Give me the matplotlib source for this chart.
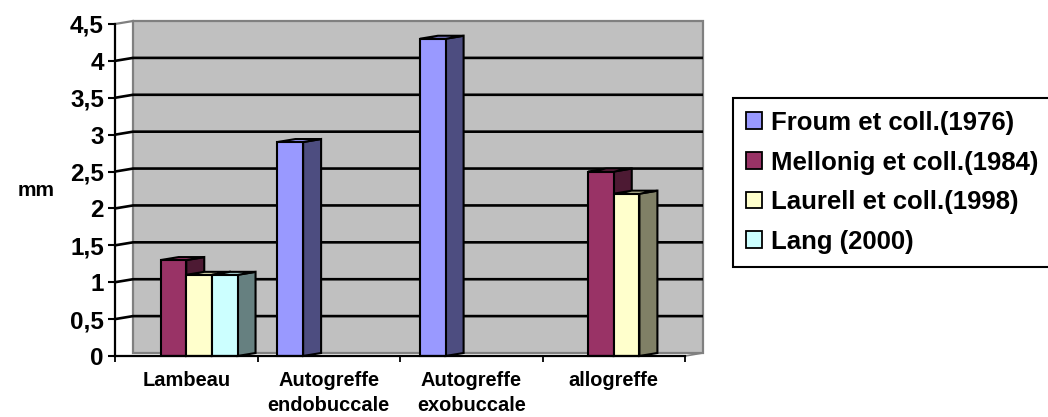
import numpy as np
import matplotlib
matplotlib.use("Agg")
import matplotlib.pyplot as plt
from matplotlib.patches import Polygon, Rectangle, Patch
from matplotlib.ticker import FixedLocator, FuncFormatter

# ---- data -------------------------------------------------------------
categories = ["Lambeau", "Autogreffe\nendobuccale", "Autogreffe\nexobuccale", "allogreffe"]
series_names = ["Froum et coll.(1976)", "Mellonig et coll.(1984)",
                "Laurell et coll.(1998)", "Lang (2000)"]
froum = [np.nan, 2.9, 4.3, np.nan]
mellonig = [1.3, np.nan, np.nan, 2.5]
laurell = [1.1, np.nan, np.nan, 2.2]
lang = [1.1, np.nan, np.nan, np.nan]
y_ticks = [0, 0.5, 1, 1.5, 2, 2.5, 3, 3.5, 4, 4.5]
y_label = "mm"

# ---- style ------------------------------------------------------------
front_colors = ["#9999FF", "#993366", "#FFFFCC", "#CCFFFF"]
side_colors = ["#4D4D80", "#4D1A33", "#808066", "#668080"]
wall_color = "#C0C0C0"
wall_edge = "#808080"
FONT = "Liberation Sans"

W, H, DPI = 1048, 417, 100
fig = plt.figure(figsize=(W / DPI, H / DPI), dpi=DPI)
fig.patch.set_facecolor("white")

# front plane of the 3-D box, in pixels
x_left, x_right = 115, 685
y_bottom, y_top = 356, 24
ax = fig.add_axes([x_left / W, 1 - y_bottom / H,
                   (x_right - x_left) / W, (y_bottom - y_top) / H])
ymax = 4.5
ax.set_xlim(-0.5, len(categories) - 0.5)
ax.set_ylim(0, ymax)
ax.patch.set_visible(False)

# depth of the box expressed in data units
depth_px = (18, 3)
dx = depth_px[0] * (len(categories)) / (x_right - x_left)
dy = depth_px[1] * ymax / (y_bottom - y_top)
x0, x1 = -0.5, len(categories) - 0.5

# back wall
ax.add_patch(Polygon([(x0 + dx, dy), (x1 + dx, dy), (x1 + dx, ymax + dy), (x0 + dx, ymax + dy)],
                     closed=True, facecolor=wall_color, edgecolor=wall_edge,
                     linewidth=1.6, zorder=1, clip_on=False))
# side wall top edge and floor right edge
ax.plot([x0, x0 + dx], [ymax, ymax + dy], color=wall_edge, lw=1.6, zorder=1.1, clip_on=False)
ax.plot([x1, x1 + dx], [0, dy], color=wall_edge, lw=1.2, zorder=1.1, clip_on=False)

# gridlines: diagonal across side wall then along back wall
for yv in y_ticks[1:-1]:
    ax.plot([x0, x0 + dx, x1 + dx], [yv, yv + dy, yv + dy], color="black",
            lw=1.9, zorder=1.5, clip_on=False, solid_capstyle="butt")

# bars
values = [froum, mellonig, laurell, lang]
n_series = len(values)
bar_w = 0.18
gap = (1 - n_series * bar_w) / 2
z = 3
for j in range(len(categories)):
    for i, vals in enumerate(values):
        v = vals[j]
        if np.isnan(v):
            continue
        left = j - 0.5 + gap + i * bar_w
        right = left + bar_w
        kw = dict(edgecolor="black", linewidth=1.5, joinstyle="miter", clip_on=False)
        ax.add_patch(Polygon([(right, 0), (right + dx, dy), (right + dx, v + dy), (right, v)],
                             closed=True, facecolor=side_colors[i], zorder=z, **kw))
        ax.add_patch(Polygon([(left, v), (right, v), (right + dx, v + dy), (left + dx, v + dy)],
                             closed=True, facecolor=front_colors[i], zorder=z, **kw))
        ax.add_patch(Rectangle((left, 0), bar_w, v, facecolor=front_colors[i],
                               zorder=z + 0.1, **kw))
        z += 1

# axes lines and ticks
for s in ["top", "right"]:
    ax.spines[s].set_visible(False)
for s in ["left", "bottom"]:
    ax.spines[s].set_linewidth(1.6)
    ax.spines[s].set_color("black")
    ax.spines[s].set_zorder(50)

ax.yaxis.set_major_locator(FixedLocator(y_ticks))
ax.yaxis.set_major_formatter(FuncFormatter(lambda v, p: ("%g" % v).replace(".", ",")))
ax.tick_params(axis="y", direction="out", length=5, width=1.5, pad=3,
               labelsize=17.5, colors="black")
for lab in ax.get_yticklabels():
    lab.set_fontfamily(FONT)
    lab.set_fontweight("bold")

ax.set_xticks(range(len(categories)))
ax.set_xticklabels(categories, fontfamily=FONT, fontweight="bold", fontsize=14.4,
                   linespacing=1.4)
ax.tick_params(axis="x", which="major", length=0, pad=11)
ax.set_xticks(np.arange(-0.5, len(categories), 1.0), minor=True)
ax.tick_params(axis="x", which="minor", direction="out", length=4.5, width=1.3)

fig.text(36 / W, 1 - 190 / H, y_label, ha="center", va="center",
         fontfamily=FONT, fontweight="bold", fontsize=15)

# legend
handles = [Patch(facecolor=c, edgecolor="black", linewidth=1.3) for c in front_colors]
leg = fig.legend(handles, series_names, loc="upper left",
                 bbox_to_anchor=(733 / W, 1 - 98 / H), frameon=True, fancybox=False,
                 framealpha=1, edgecolor="black", borderpad=0.5, labelspacing=0.61,
                 handlelength=0.62, handleheight=0.62, handletextpad=0.35,
                 borderaxespad=0,
                 prop=dict(family=FONT, weight="bold", size=18.5))
leg.get_frame().set_linewidth(1.5)

fig.savefig("out.png", dpi=DPI)
